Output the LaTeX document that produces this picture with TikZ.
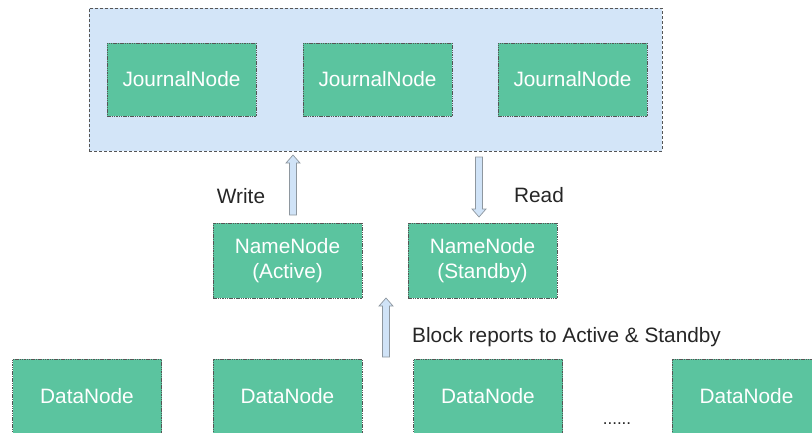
\documentclass[tikz,border=0pt]{standalone}
\usepackage{fontspec}
\setmainfont{Liberation Sans}
\usepackage{xcolor}
\usepackage{tikz}
\usetikzlibrary{calc}
\definecolor{nodegreen}{HTML}{5BC49F}
\definecolor{clusterblue}{HTML}{D3E5F8}
\definecolor{arrowfill}{HTML}{D0E3F7}
\definecolor{arrowline}{HTML}{8E979F}
\definecolor{edgegray}{HTML}{555555}
\definecolor{labeltext}{HTML}{262626}

\begin{document}
\begin{tikzpicture}[x=1pt, y=-1pt,
  font=\fontsize{20.8}{24.5}\selectfont,
  cluster/.style={draw=edgegray, fill=clusterblue, dash pattern=on 3pt off 2pt, line width=0.7pt},
  box/.style={draw=edgegray, fill=nodegreen, text=white, dash pattern=on 1.5pt off 0.8pt, line width=0.6pt,
    minimum width=149pt, minimum height=73pt, inner sep=0pt, align=center},
  nameBox/.style={box, minimum height=75pt},
  tag/.style={text=labeltext, inner sep=0pt},
  hollow/.style={draw=arrowline, fill=arrowfill, line width=0.7pt,
    to path={let \p1=(\tikztostart), \p2=(\tikztotarget), \n1={sign(\y2-\y1)*8pt} in
      (\x1-3.5pt,\y1) -- (\x1-3.5pt,{\y2-\n1}) -- (\x1-7pt,{\y2-\n1}) -- (\x2,\y2)
      -- (\x1+7pt,{\y2-\n1}) -- (\x1+3.5pt,{\y2-\n1}) -- (\x1+3.5pt,\y1) -- cycle}}
]
  \useasboundingbox (0,0) rectangle (812,432);

  % journal quorum
  \node[cluster, minimum width=573pt, minimum height=143pt] (journals) at (375.5,79.5) {};
  \node[box] (jn1) at (181.5,79.5) {JournalNode};
  \node[box] (jn2) at (377.5,79.5) {JournalNode};
  \node[box] (jn3) at (572.5,79.5) {JournalNode};

  % name nodes
  \node[nameBox] (active) at (287.5,260.5) {NameNode\\(Active)};
  \node[nameBox] (standby) at (482.5,260.5) {NameNode\\(Standby)};

  % data nodes
  \node[box, minimum height=74pt] (dn1) at (87,396) {DataNode};
  \node[box, minimum height=74pt] (dn2) at (287.5,396) {DataNode};
  \node[box, minimum height=74pt] (dn3) at (488,396) {DataNode};
  \node[box, minimum height=74pt] (dn4) at (746.5,396) {DataNode};
  \node[tag, anchor=base, font=\fontsize{17}{20}\selectfont] (more) at (617,424) {......};

  \coordinate (writeFrom) at (293,215);
  \coordinate (writeTo) at (293,155);
  \coordinate (readFrom) at (479,157);
  \coordinate (readTo) at (479,217);
  \coordinate (reportFrom) at (386,357);
  \coordinate (reportTo) at (386,298);

  \draw[hollow] (writeFrom) to (writeTo);
  \draw[hollow] (readFrom) to (readTo);
  \draw[hollow] (reportFrom) to (reportTo);

  \node[tag] (write) at (241,196) {Write};
  \node[tag] (read) at (539,195) {Read};
  \node[tag, anchor=base west] (reports) at (412,342) {Block reports to Active \& Standby};
\end{tikzpicture}
\end{document}
